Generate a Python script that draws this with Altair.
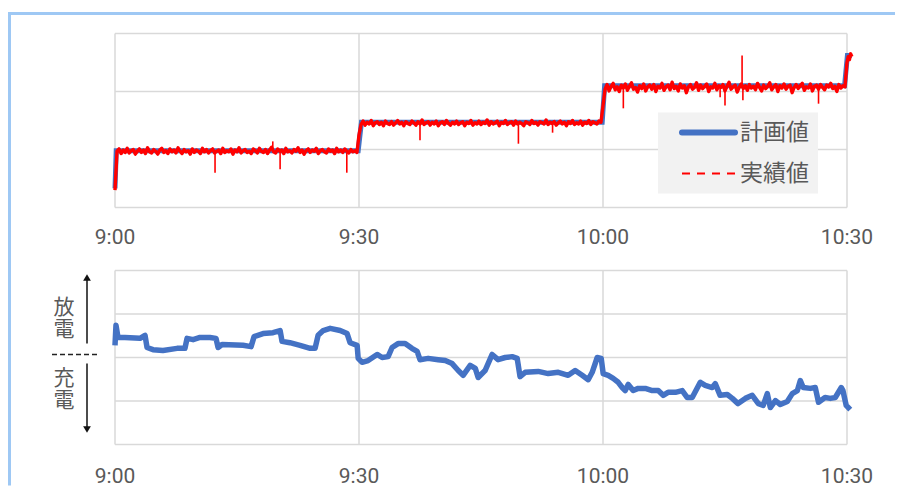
import altair as alt
import pandas as pd

# ---------------- data ----------------
TICK_MIN = [0, 30, 60, 90]
TICK_LABELS = ["9:00", "9:30", "10:00", "10:30"]

SERIES = ["計画値", "実績値"]

# plan (計画値) step line, minutes after 9:00
PLAN_MIN = [0.0, 0.15, 29.9, 30.3, 59.9, 60.2, 89.7, 90.05, 90.6]
PLAN_VAL = [0.33, 0.98, 0.98, 1.47, 1.47, 2.10, 2.10, 2.62, 2.62]

# actual (実績値), sampled every 0.25 min within each half hour
ACT_STEP = 0.25
ACT1_START = 0.0
ACT1 = [0.30, 0.97, 1.01, 0.93, 0.99, 0.95, 1.02, 0.94, 0.98, 1.00, 0.92, 0.97,
        1.01, 0.95, 0.99, 0.93, 1.03, 0.96, 0.94, 1.00, 0.97, 0.92, 0.99, 1.02,
        0.95, 0.98, 0.93, 1.01, 0.96, 0.99, 0.94, 1.03, 0.97, 0.93, 1.00, 0.96,
        0.98, 0.92, 1.01, 0.95, 0.99, 0.97, 0.93, 1.02, 0.96, 1.00, 0.94, 0.98,
        1.01, 0.94, 0.97, 0.99, 0.93, 1.02, 0.95, 0.98, 0.96, 1.01, 0.92, 0.99,
        0.96, 1.03, 0.94, 0.98, 1.00, 0.95, 0.97, 0.93, 1.01, 0.98, 0.94, 1.02,
        0.97, 0.95, 1.00, 0.93, 0.99, 1.04, 0.96, 0.94, 1.01, 0.97, 0.99, 0.93,
        1.02, 0.96, 0.98, 0.94, 1.00, 0.97, 1.03, 0.95, 0.99, 0.92, 0.98, 1.01,
        0.95, 0.99, 0.97, 1.02, 0.93, 0.98, 1.00, 0.96, 0.94, 1.01, 0.97, 0.99,
        0.93, 1.02, 0.96, 0.99, 0.95, 1.01, 0.97, 0.94, 1.00, 0.96, 0.98, 0.95]
ACT2_START = 30.0
ACT2 = [1.25, 1.43, 1.49, 1.42, 1.47, 1.44, 1.50, 1.41, 1.46, 1.48, 1.43, 1.47,
        1.41, 1.49, 1.45, 1.43, 1.48, 1.42, 1.46, 1.50, 1.44, 1.47, 1.41, 1.48,
        1.45, 1.43, 1.49, 1.46, 1.42, 1.48, 1.44, 1.51, 1.43, 1.46, 1.48, 1.42,
        1.47, 1.44, 1.49, 1.41, 1.46, 1.48, 1.43, 1.50, 1.45, 1.42, 1.47, 1.44,
        1.49, 1.43, 1.46, 1.48, 1.41, 1.47, 1.45, 1.50, 1.42, 1.46, 1.44, 1.49,
        1.43, 1.47, 1.45, 1.51, 1.42, 1.48, 1.44, 1.46, 1.49, 1.41, 1.47, 1.45,
        1.50, 1.43, 1.46, 1.48, 1.42, 1.49, 1.44, 1.47, 1.45, 1.41, 1.48, 1.46,
        1.43, 1.50, 1.45, 1.47, 1.42, 1.48, 1.46, 1.44, 1.51, 1.43, 1.47, 1.45,
        1.48, 1.42, 1.46, 1.49, 1.44, 1.47, 1.41, 1.48, 1.45, 1.50, 1.43, 1.46,
        1.44, 1.49, 1.42, 1.47, 1.45, 1.50, 1.43, 1.48, 1.46, 1.44, 1.49, 1.47]
ACT3_START = 60.0
ACT3 = [1.75, 2.04, 2.12, 2.01, 2.09, 2.14, 2.03, 2.08, 2.00, 2.11, 2.06, 2.13,
        2.02, 2.09, 2.15, 2.04, 2.07, 1.99, 2.10, 2.05, 2.13, 2.01, 2.08, 2.11,
        2.04, 2.12, 2.00, 2.09, 2.06, 2.14, 2.02, 2.08, 2.11, 2.03, 2.16, 2.05,
        2.09, 2.01, 2.13, 2.06, 2.10, 1.98, 2.08, 2.12, 2.04, 2.07, 2.15, 2.02,
        2.11, 2.05, 2.09, 2.13, 2.00, 2.08, 2.06, 2.14, 2.03, 2.10, 2.07, 2.12,
        2.01, 2.09, 2.16, 2.04, 2.08, 2.11, 1.99, 2.07, 2.13, 2.05, 2.10, 2.02,
        2.12, 2.06, 2.09, 2.03, 2.14, 2.07, 2.01, 2.11, 2.05, 2.09, 2.15, 2.03,
        2.08, 2.12, 2.00, 2.10, 2.06, 2.13, 2.04, 2.09, 2.11, 1.98, 2.07, 2.12,
        2.05, 2.10, 2.14, 2.02, 2.08, 2.06, 2.13, 2.01, 2.09, 2.11, 2.04, 2.12,
        2.07, 2.03, 2.11, 2.08, 2.14, 2.05, 2.09, 2.00, 2.12, 2.06, 2.10, 2.08]
ACT4_MIN = [90.0, 90.15, 90.3, 90.45, 90.6]
ACT4 = [2.50, 2.60, 2.55, 2.65, 2.60]

# short spikes in the actual series
SPIKE_MIN = [12.3, 19.4, 20.3, 28.5, 37.5, 49.6, 53.8, 62.5, 74.4, 75.0, 77.1, 77.2, 86.5]
SPIKE_VAL = [0.60, 1.14, 0.66, 0.60, 1.16, 1.10, 1.29, 1.71, 1.90, 1.76, 2.62, 1.85, 1.79]
SPIKE_BASE = [0.97, 0.97, 0.97, 0.97, 1.45, 1.45, 1.45, 2.07, 2.07, 2.07, 2.07, 2.07, 2.07]

# lower panel (charge / discharge)
SOC_MIN = [0, 0.12, 0.37, 1.23, 3.08, 3.69, 3.94, 4.67, 5.9, 7.63,
           8.6, 8.86, 9.6, 10.45, 11.68, 12.42, 12.67, 13.16, 15.74, 16.73,
           17.1, 18.2, 19.43, 20.3, 20.54, 21.5, 22.75, 24.0, 24.6, 24.97,
           25.6, 26.45, 27.68, 28.54, 28.9, 29.77, 29.9, 30.38, 31.12, 32.23,
           32.84, 33.58, 34.07, 34.8, 35.67, 36.5, 37.15, 37.5, 38.5, 39.73,
           40.6, 41.45, 42.2, 42.8, 43.67, 44.3, 44.65, 45.5, 46.37, 47.1,
           47.97, 48.83, 49.45, 49.8, 50.43, 52.03, 53.26, 54.5, 55.72, 56.58,
           57.44, 58.18, 58.67, 59.29, 59.78, 60.02, 60.64, 61.25, 61.87, 62.36,
           62.73, 63.1, 63.71, 64.33, 65.2, 66.05, 66.79, 67.4, 68.0, 68.9,
           69.74, 70.36, 70.97, 71.96, 72.57, 73.43, 73.8, 74.4, 75.28, 75.9,
           76.6, 77.5, 78.35, 79.1, 79.7, 80.2, 80.57, 81.2, 81.8, 82.66,
           83.27, 83.9, 84.26, 84.62, 85.5, 86.1, 86.5, 87.3, 87.95, 88.56,
           89.3, 89.5, 89.9, 90.4]
SOC_VAL = [0.28, 0.74, 0.46, 0.46, 0.44, 0.51, 0.23, 0.18, 0.16, 0.21,
           0.21, 0.44, 0.41, 0.46, 0.46, 0.44, 0.23, 0.30, 0.28, 0.25,
           0.48, 0.55, 0.57, 0.62, 0.37, 0.34, 0.28, 0.21, 0.21, 0.51,
           0.62, 0.67, 0.62, 0.55, 0.34, 0.28, -0.02, -0.11, -0.07, 0.07,
           0.0, 0.02, 0.23, 0.32, 0.32, 0.21, 0.14, -0.05, -0.02, -0.05,
           -0.07, -0.14, -0.30, -0.41, -0.18, -0.25, -0.46, -0.30, 0.07, -0.05,
           0.0, 0.02, -0.02, -0.44, -0.34, -0.32, -0.37, -0.34, -0.41, -0.30,
           -0.41, -0.51, -0.34, 0.0, -0.02, -0.37, -0.41, -0.48, -0.57, -0.69,
           -0.76, -0.62, -0.76, -0.71, -0.71, -0.76, -0.76, -0.87, -0.80, -0.80,
           -0.76, -0.92, -0.92, -0.57, -0.64, -0.69, -0.60, -0.87, -0.85, -0.94,
           -1.06, -0.94, -0.87, -1.06, -1.10, -0.83, -1.15, -0.99, -1.08, -1.01,
           -0.83, -0.76, -0.53, -0.69, -0.71, -0.69, -1.03, -0.92, -0.94, -0.92,
           -0.69, -0.76, -1.10, -1.20]

TOP_GRID = [0, 1, 2, 3]
BOT_GRID = [-2, -1, 0, 1, 2]
ANNOT_UP = "放電"
ANNOT_DOWN = "充電"

# ---------------- styling ----------------
W, H = 732, 411
TOP_H = 174
BOT_Y0 = 237
BLUE = "#4472c4"
RED = "#ff0000"
GRID = "#d9d9d9"
LABEL = "#595959"
FRAME = "#9ec8f4"
JP = "Noto Sans CJK JP"

XS = alt.Scale(domain=[0, 90], nice=False, zero=False)
TOP = alt.Scale(domain=[0, 3], range=[TOP_H, 0], nice=False, zero=False)
BOT = alt.Scale(domain=[-2, 2], range=[H, BOT_Y0], nice=False, zero=False)


def xq(field="t"):
    return alt.X(f"{field}:Q", scale=XS, axis=None)


one = pd.DataFrame({"a": [0]})

# actual series table
act_t, act_v = [], []
for start, vals in [(ACT1_START, ACT1), (ACT2_START, ACT2), (ACT3_START, ACT3)]:
    for i, v in enumerate(vals):
        act_t.append(start + ACT_STEP * i)
        act_v.append(v)
act_t += ACT4_MIN
act_v += ACT4
act_df = pd.DataFrame({"t": act_t, "v": act_v, "s": SERIES[1]})
plan_df = pd.DataFrame({"t": PLAN_MIN, "v": PLAN_VAL, "s": SERIES[0]})
spike_df = pd.DataFrame({"t": SPIKE_MIN, "v": SPIKE_VAL, "b": SPIKE_BASE})
soc_df = pd.DataFrame({"t": SOC_MIN, "v": SOC_VAL})
tick_df = pd.DataFrame({"t": TICK_MIN, "label": TICK_LABELS})

# grids
hgrid_top = alt.Chart(pd.DataFrame({"v": TOP_GRID})).mark_rule(color=GRID, strokeWidth=1.5).encode(
    y=alt.Y("v:Q", scale=TOP, axis=None), x=alt.value(0), x2=alt.value(W))
hgrid_bot = alt.Chart(pd.DataFrame({"v": BOT_GRID})).mark_rule(color=GRID, strokeWidth=1.5).encode(
    y=alt.Y("v:Q", scale=BOT, axis=None), x=alt.value(0), x2=alt.value(W))
vgrid_top = alt.Chart(tick_df).mark_rule(color=GRID, strokeWidth=1.5).encode(
    x=xq(), y=alt.value(0), y2=alt.value(TOP_H))
vgrid_bot = alt.Chart(tick_df).mark_rule(color=GRID, strokeWidth=1.5).encode(
    x=xq(), y=alt.value(BOT_Y0), y2=alt.value(H))

# data
plan_line = alt.Chart(plan_df).mark_line(color=BLUE, strokeWidth=5, clip=False).encode(
    x=xq(), y=alt.Y("v:Q", scale=TOP, axis=None), order="t:Q")
act_line = alt.Chart(act_df).mark_line(color=RED, strokeWidth=3.4, strokeJoin="round", clip=False).encode(
    x=xq(), y=alt.Y("v:Q", scale=TOP, axis=None), order="t:Q")
spikes = alt.Chart(spike_df).mark_rule(color=RED, strokeWidth=1.6).encode(
    x=xq(), y=alt.Y("v:Q", scale=TOP, axis=None), y2="b:Q")
soc_line = alt.Chart(soc_df).mark_line(color=BLUE, strokeWidth=5.5, strokeJoin="round", clip=False).encode(
    x=xq(), y=alt.Y("v:Q", scale=BOT, axis=None), order="t:Q")

# tick labels
lab_top = alt.Chart(tick_df).mark_text(font="Roboto", fontSize=21, color=LABEL, baseline="middle").encode(
    x=xq(), y=alt.value(204.5), text="label:N")
lab_bot = alt.Chart(tick_df).mark_text(font="Roboto", fontSize=21, color=LABEL, baseline="middle").encode(
    x=xq(), y=alt.value(443.5), text="label:N")

# legend
leg_box = alt.Chart(one).mark_rect(color="#f2f2f2").encode(
    x=alt.value(543), x2=alt.value(703), y=alt.value(79), y2=alt.value(160))
leg_blue = alt.Chart(one).mark_rule(color=BLUE, strokeWidth=6, strokeCap="round").encode(
    x=alt.value(567), x2=alt.value(620), y=alt.value(99))
leg_red = alt.Chart(one).mark_rule(color=RED, strokeWidth=1.8, strokeDash=[8, 7]).encode(
    x=alt.value(567), x2=alt.value(622), y=alt.value(140))
leg_txt1 = alt.Chart(pd.DataFrame({"s": [SERIES[0]]})).mark_text(
    font=JP, fontSize=23, color=LABEL, align="left", baseline="middle").encode(
    x=alt.value(625), y=alt.value(99), text="s:N")
leg_txt2 = alt.Chart(pd.DataFrame({"s": [SERIES[1]]})).mark_text(
    font=JP, fontSize=23, color=LABEL, align="left", baseline="middle").encode(
    x=alt.value(625), y=alt.value(140), text="s:N")


# left annotation for lower panel: one character per text mark, stacked
def char_mark(ch, ypix):
    return alt.Chart(pd.DataFrame({"s": [ch]})).mark_text(
        font=JP, fontSize=21, color=LABEL, align="center", baseline="middle").encode(
        x=alt.value(-51), y=alt.value(ypix), text="s:N")


ann = [char_mark(ANNOT_UP[0], 274.3), char_mark(ANNOT_UP[1], 296.5),
       char_mark(ANNOT_DOWN[0], 345.5), char_mark(ANNOT_DOWN[1], 367.8)]

arrow_up = alt.Chart(one).mark_rule(color="#111", strokeWidth=1.5).encode(
    x=alt.value(-28), y=alt.value(246), y2=alt.value(310))
arrow_dn = alt.Chart(one).mark_rule(color="#111", strokeWidth=1.5).encode(
    x=alt.value(-28), y=alt.value(330), y2=alt.value(396))
head_up = alt.Chart(one).mark_point(shape="triangle-up", filled=True, size=60, color="#111", opacity=1).encode(
    x=alt.value(-28), y=alt.value(244))
head_dn = alt.Chart(one).mark_point(shape="triangle-down", filled=True, size=60, color="#111", opacity=1).encode(
    x=alt.value(-28), y=alt.value(396))
zero_dash = alt.Chart(one).mark_rule(color="#222", strokeWidth=1.3, strokeDash=[5, 3]).encode(
    x=alt.value(-63), x2=alt.value(-15), y=alt.value(321))

# page frame (filled strips so their bounds are exact)
frame_top = alt.Chart(one).mark_rect(color=FRAME).encode(
    x=alt.value(-107), x2=alt.value(780), y=alt.value(-21.5), y2=alt.value(-18.5))
frame_left = alt.Chart(one).mark_rect(color=FRAME).encode(
    x=alt.value(-107), x2=alt.value(-104), y=alt.value(-21.5), y2=alt.value(452))

chart = alt.layer(
    hgrid_top, hgrid_bot, vgrid_top, vgrid_bot,
    plan_line, act_line, spikes, soc_line,
    lab_top, lab_bot,
    leg_box, leg_blue, leg_red, leg_txt1, leg_txt2,
    *ann, arrow_up, arrow_dn, head_up, head_dn, zero_dash,
    frame_top, frame_left,
).resolve_scale(y="independent").properties(
    width=W, height=H,
    padding={"left": 0, "top": 3.5, "right": 0, "bottom": 0},
    background="white",
).configure_view(stroke=None)

chart.save("out.html", embed_options={"renderer": "svg", "actions": False})
